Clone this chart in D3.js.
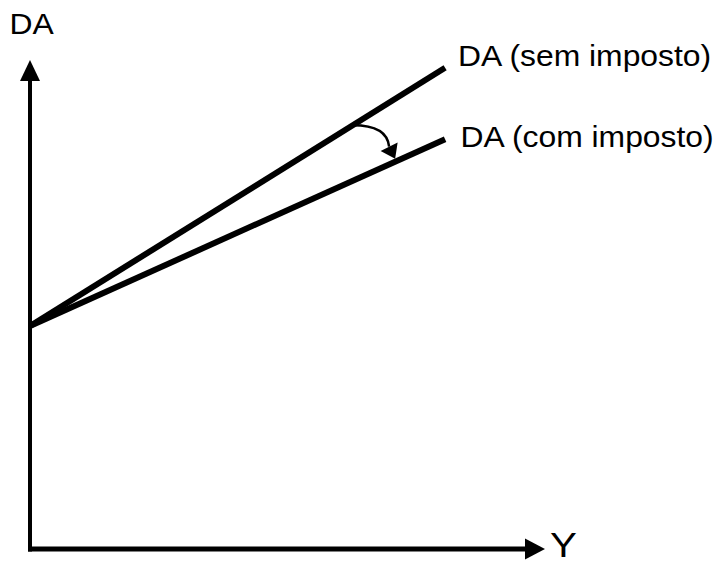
<!DOCTYPE html>
<html>
<head>
<meta charset="utf-8">
<script src="https://cdn.jsdelivr.net/npm/d3@7"></script>
<style>
  html, body { margin: 0; padding: 0; background: #fff; }
  svg { display: block; }
  text { font-family: "Liberation Sans", Arial, sans-serif; fill: #000; }
</style>
</head>
<body>
<div id="chart"></div>
<script>
// Income (Y) at both ends of the demand lines
const incomeY = [0, 8.06];
// Aggregate demand without / with tax (same intercept, tax flattens slope)
const daSemImposto = [4.56, 9.84];
const daComImposto = [4.56, 8.38];
const seriesLabels = ['DA (sem imposto)', 'DA (com imposto)'];
const axisLabels = { x: 'Y', y: 'DA' };
// where the curved arrow leaves the upper line and lands on the lower one
const arrowFromY = 6.27;
const arrowToY = 7.09;

const W = 721, H = 563;
const x = d3.scaleLinear().domain([0, 10]).range([30, 545]);
const y = d3.scaleLinear().domain([0, 10]).range([549, 60]);

const svg = d3.select('#chart').append('svg')
  .attr('width', W)
  .attr('height', H);

// axes with arrow heads
svg.append('line')
  .attr('x1', x(0)).attr('x2', x(0))
  .attr('y1', y(0) + 2.5).attr('y2', y(10) + 20)
  .attr('stroke', '#000').attr('stroke-width', 4);
svg.append('path')
  .attr('d', `M${x(0)},${y(10)} L${x(0) + 10},${y(10) + 21} L${x(0) - 10},${y(10) + 21} Z`)
  .attr('fill', '#000');

svg.append('line')
  .attr('x1', x(0) - 2).attr('x2', x(10) - 20)
  .attr('y1', y(0)).attr('y2', y(0))
  .attr('stroke', '#000').attr('stroke-width', 5);
svg.append('path')
  .attr('d', `M${x(10)},${y(0)} L${x(10) - 20},${y(0) - 10.5} L${x(10) - 20},${y(0) + 10.5} Z`)
  .attr('fill', '#000');

// demand lines
const line = d3.line()
  .x(d => x(d[0]))
  .y(d => y(d[1]));

[daSemImposto, daComImposto].forEach(vals => {
  svg.append('path')
    .datum(incomeY.map((v, i) => [v, vals[i]]))
    .attr('d', line)
    .attr('fill', 'none')
    .attr('stroke', '#000')
    .attr('stroke-width', 6);
});

function valueAt(vals, v) {
  const t = (v - incomeY[0]) / (incomeY[1] - incomeY[0]);
  return vals[0] + t * (vals[1] - vals[0]);
}

// curved arrow showing the rotation
const p0 = [x(arrowFromY), y(valueAt(daSemImposto, arrowFromY))];
const tip = [x(arrowToY), y(valueAt(daComImposto, arrowToY)) - 3];
const base = [tip[0] - 6, tip[1] - 12];
const ctrl = [base[0] - 2, p0[1]];

svg.append('path')
  .attr('d', `M${p0[0]},${p0[1]} Q${ctrl[0]},${ctrl[1]} ${base[0]},${base[1]}`)
  .attr('fill', 'none')
  .attr('stroke', '#000')
  .attr('stroke-width', 2.5);

const dx = tip[0] - base[0], dy = tip[1] - base[1];
const len = Math.hypot(dx, dy);
const nx = -dy / len * 9.5, ny = dx / len * 9.5;
svg.append('path')
  .attr('d', `M${tip[0]},${tip[1]} L${base[0] + nx},${base[1] + ny} L${base[0] - nx},${base[1] - ny} Z`)
  .attr('fill', '#000');

// labels
function label(txt, px, py, size, sx) {
  svg.append('text')
    .attr('transform', `translate(${px},${py}) scale(${sx},1)`)
    .attr('font-size', size + 'px')
    .text(txt);
}

label(axisLabels.y, 9.6, 34, 29.5, 1.08);
label(axisLabels.x, 550, 556.5, 36, 1.12);
label(seriesLabels[0], x(incomeY[1]) + 13, y(daSemImposto[1]) - 2, 29.5, 1.08);
label(seriesLabels[1], x(incomeY[1]) + 15.5, y(daComImposto[1]) + 8, 29.5, 1.08);
</script>
</body>
</html>
